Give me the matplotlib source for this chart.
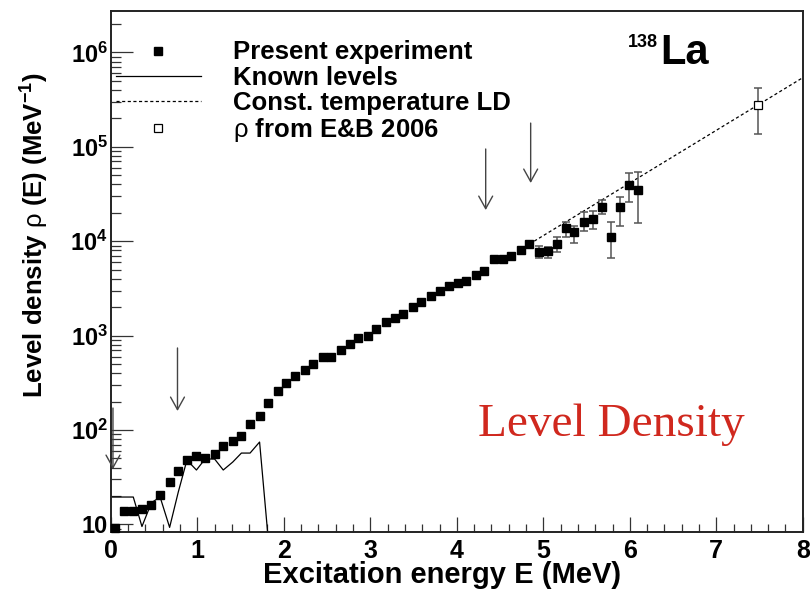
import math
import matplotlib
matplotlib.use("Agg")
import matplotlib.pyplot as plt
from matplotlib.ticker import MultipleLocator, LogLocator, FuncFormatter, NullFormatter

plt.rcParams['font.family'] = ['Liberation Sans', 'DejaVu Sans']
plt.rcParams['mathtext.fontset'] = 'custom'
plt.rcParams['mathtext.rm'] = 'Liberation Sans'
plt.rcParams['mathtext.bf'] = 'Liberation Sans:bold'
plt.rcParams['mathtext.it'] = 'Liberation Sans:italic'
plt.rcParams['mathtext.default'] = 'bf'

# ---------------- data ----------------
E_exp = [0.05, 0.15, 0.26, 0.36, 0.47, 0.57, 0.68, 0.78, 0.88, 0.99,
         1.09, 1.20, 1.30, 1.41, 1.51, 1.61, 1.72, 1.82, 1.93, 2.03,
         2.13, 2.24, 2.34, 2.45, 2.55, 2.66, 2.76, 2.86, 2.97, 3.07,
         3.18, 3.28, 3.38, 3.49, 3.59, 3.70, 3.80, 3.91, 4.01, 4.11,
         4.22, 4.32, 4.43, 4.53, 4.63, 4.74, 4.84, 4.95, 5.05, 5.16,
         5.26, 5.36, 5.47, 5.57, 5.68, 5.78, 5.89, 5.99, 6.09]
rho_exp = [9.1, 13.8, 13.8, 14.5, 16.0, 20.5, 28.1, 36.7, 48.1, 53.0,
           50.5, 55.7, 67.7, 76.4, 86.3, 115.8, 140.7, 193, 259, 315,
           373, 432, 501, 594, 594, 705, 816, 945, 993, 1178,
           1397, 1539, 1697, 2014, 2275, 2636, 2977, 3366, 3617, 3800,
           4398, 4850, 6505, 6505, 6998, 8095, 9369, 7711, 7907, 9369,
           13840, 12560, 16020, 17260, 23130, 11120, 23130, 39540, 35000]
# error band for the last 12 points (lower / upper ends of the bars)
rho_exp_lo = [6657, 6657, 7711, 11120, 9590, 12880, 13520, 19500, 6657, 14550, 26120, 15630]
rho_exp_hi = [8933, 8718, 11120, 16020, 14550, 20470, 20980, 27420, 16020, 29520, 52950, 54290]

E_lev = [0.02, 0.15, 0.26, 0.36, 0.47, 0.57, 0.68, 0.78, 0.88, 0.99,
         1.09, 1.20, 1.30, 1.41, 1.51, 1.61, 1.72, 1.82]
rho_lev = [19.5, 19.5, 19.5, 9.5, 17.0, 19.5, 9.3, 22.0, 48.0, 37.7,
           49.3, 49.3, 37.7, 45.8, 57.0, 57.0, 74.6, 7.0]

E_ct = [4.84, 8.0]
rho_ct = [9340, 540800]

E_eb = [7.48]
rho_eb = [277500]
rho_eb_lo = [136800]
rho_eb_hi = [419800]

arrow_E = [0.025, 0.771, 4.334, 4.854]
arrow_top = [171, 740, 94900, 178600]
arrow_tip = [38.6, 159, 21400, 41400]

legend_labels = ["Present experiment", "Known levels",
                 "Const. temperature LD", r"$\mathrm{\rho}$ from E&B 2006"]

# ---------------- figure ----------------
W, H = 810, 589
fig = plt.figure(figsize=(W / 100, H / 100), dpi=100)
fig.patch.set_facecolor('white')
x0, x1, y_top, y_bot = 110.8, 802.8, 11.0, 532.0
ax = fig.add_axes([x0 / W, 1 - y_bot / H, (x1 - x0) / W, (y_bot - y_top) / H])

ax.set_xlim(0, 8)
ax.set_yscale('log')
ax.set_ylim(8.31, 2.75e6)

lev_line, = ax.plot(E_lev, rho_lev, color='black', lw=0.9)
ct_line, = ax.plot(E_ct, rho_ct, color='black', lw=0.9, dashes=(2.5, 2.0))

n_err = len(rho_exp_lo)
E_e = E_exp[-n_err:]
r_e = rho_exp[-n_err:]
ax.errorbar(E_e, r_e,
            yerr=[[r - lo for r, lo in zip(r_e, rho_exp_lo)],
                  [hi - r for r, hi in zip(r_e, rho_exp_hi)]],
            fmt='none', ecolor='#555555', elinewidth=1.1, capsize=3, capthick=1.1)
sq_line, = ax.plot(E_exp, rho_exp, 's', color='black', ms=6.2, clip_on=False, zorder=5)

ax.errorbar(E_eb, rho_eb,
            yerr=[[rho_eb[0] - rho_eb_lo[0]], [rho_eb_hi[0] - rho_eb[0]]],
            fmt='none', ecolor='#555555', elinewidth=1.1, capsize=3, capthick=1.1)
eb_line, = ax.plot(E_eb, rho_eb, 's', mfc='white', mec='black', mew=0.9, ms=6.2, zorder=6)

for e, top, tip in zip(arrow_E, arrow_top, arrow_tip):
    ax.annotate('', xy=(e, tip), xytext=(e, top),
                arrowprops=dict(arrowstyle='->,head_length=0.45,head_width=0.25',
                                color='#444444', lw=1.0, shrinkA=0, shrinkB=0,
                                mutation_scale=20))

# axes styling
for s in ax.spines.values():
    s.set_linewidth(1.4)
    s.set_color('#222222')
ax.xaxis.set_major_locator(MultipleLocator(1))
ax.xaxis.set_minor_locator(MultipleLocator(0.2))
ax.yaxis.set_major_locator(LogLocator(base=10, numticks=20))
ax.yaxis.set_minor_locator(LogLocator(base=10, subs=[2, 3, 4, 5, 6, 7, 8, 9], numticks=20))
ax.yaxis.set_minor_formatter(NullFormatter())


def yfmt(v, pos):
    n = int(round(math.log10(v)))
    if n == 1:
        return '10'
    return r'$10^{%d}$' % n


ax.yaxis.set_major_formatter(FuncFormatter(yfmt))
ax.tick_params(axis='both', which='both', direction='in', top=False, right=False,
               color='#333333', width=0.9)
ax.tick_params(axis='x', which='major', length=11, pad=5, labelsize=18)
ax.tick_params(axis='x', which='minor', length=5.5)
ax.tick_params(axis='y', which='major', length=16, pad=2, labelsize=17)
ax.tick_params(axis='y', which='minor', length=7)
for lab in ax.get_xticklabels() + ax.get_yticklabels():
    lab.set_fontweight('bold')

# axis titles
fig.text(442.5 / W, 1 - 583 / H, 'Excitation energy E (MeV)', fontsize=21,
         fontweight='bold', ha='center', va='baseline')
fig.text(35 / W, 1 - 72 / H, r'Level density $\mathrm{\rho}$ (E) (MeV$^{-1}$)',
         fontsize=18.5, fontweight='bold', rotation=90, ha='center', va='top')

# legend
leg = ax.legend(handles=[sq_line, lev_line, ct_line, eb_line], labels=legend_labels,
                loc='upper left', bbox_to_anchor=(116 / W, 1 - 40.5 / H),
                bbox_transform=fig.transFigure, frameon=False, borderpad=0,
                borderaxespad=0, handlelength=3.3, handletextpad=1.25,
                labelspacing=0.04, prop={'weight': 'bold', 'size': 18.5})
for h in leg.legend_handles:
    if hasattr(h, 'set_markersize'):
        h.set_markersize(5.5)

# nucleus label
fig.text(628 / W, 1 - 47 / H, '138', fontsize=13, fontweight='bold', ha='left', va='baseline')
fig.text(660 / W, 1 - 64 / H, 'La', fontsize=30, fontweight='bold', ha='left', va='baseline')

# slide caption
fig.text(478 / W, 1 - 436 / H, 'Level Density', fontsize=34, color='#d0281e',
         family='Liberation Serif', ha='left', va='baseline')

fig.savefig('out.png', dpi=100, facecolor='white')
